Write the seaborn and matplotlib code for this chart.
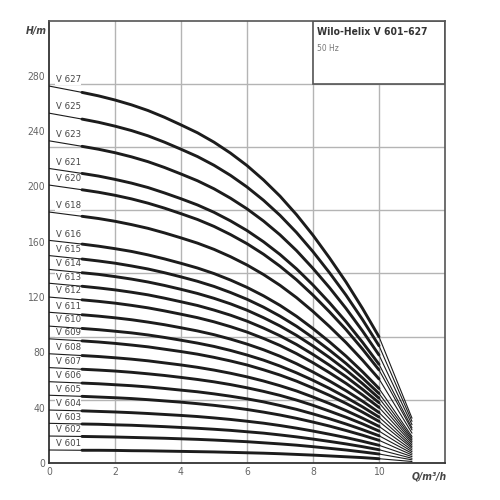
import matplotlib
matplotlib.use("Agg")
import matplotlib.pyplot as plt
from matplotlib.patches import Rectangle
import seaborn as sns
import pandas as pd

sns.set_style("white")
plt.rcParams['font.family'] = ['DejaVu Sans']
plt.rcParams['font.stretch'] = 'condensed'

# Flow rate points (m³/h)
flow = [0, 1, 1.5, 2, 2.5, 3, 3.5, 4, 4.5, 5, 5.5, 6, 6.5, 7, 7.5, 8, 8.5, 9, 9.5, 10, 11]

models = ["V 601", "V 602", "V 603", "V 604", "V 605", "V 606", "V 607", "V 608",
          "V 609", "V 610", "V 611", "V 612", "V 613", "V 614", "V 615", "V 616",
          "V 618", "V 620", "V 621", "V 623", "V 625", "V 627"]

# Head (m) per model at each flow point
v601 = [9.4, 9.2, 9.2, 9.1, 8.9, 8.8, 8.6, 8.4, 8.2, 8.0, 7.7, 7.4, 7.1, 6.7, 6.2, 5.7, 5.1, 4.5, 3.9, 3.1, 1.1]
v602 = [19.5, 19.2, 19.0, 18.8, 18.5, 18.2, 17.9, 17.5, 17.1, 16.6, 16.0, 15.4, 14.6, 13.8, 12.9, 11.8, 10.6, 9.4, 8.0, 6.5, 2.3]
v603 = [28.7, 28.2, 28.0, 27.6, 27.3, 26.8, 26.3, 25.7, 25.1, 24.4, 23.6, 22.6, 21.6, 20.3, 18.9, 17.3, 15.6, 13.8, 11.8, 9.6, 3.4]
v604 = [38.3, 37.7, 37.3, 36.9, 36.4, 35.8, 35.1, 34.4, 33.6, 32.6, 31.5, 30.2, 28.8, 27.1, 25.2, 23.1, 20.8, 18.4, 15.7, 12.8, 4.6]
v605 = [49.0, 48.2, 47.7, 47.2, 46.6, 45.8, 44.9, 44.0, 42.9, 41.7, 40.3, 38.7, 36.8, 34.7, 32.3, 29.6, 26.7, 23.5, 20.1, 16.4, 5.8]
v606 = [58.8, 57.8, 57.3, 56.6, 55.9, 55.0, 53.9, 52.7, 51.5, 50.0, 48.3, 46.4, 44.2, 41.6, 38.8, 35.5, 32.0, 28.2, 24.1, 19.7, 7.0]
v607 = [69.0, 67.8, 67.2, 66.5, 65.6, 64.5, 63.3, 61.9, 60.4, 58.7, 56.7, 54.4, 51.8, 48.9, 45.5, 41.7, 37.5, 33.1, 28.3, 23.1, 8.2]
v608 = [79.0, 77.7, 77.0, 76.1, 75.1, 73.9, 72.4, 70.9, 69.2, 67.2, 64.9, 62.3, 59.3, 55.9, 52.1, 47.7, 43.0, 37.9, 32.4, 26.5, 9.4]
v609 = [89.8, 88.3, 87.5, 86.5, 85.3, 84.0, 82.3, 80.6, 78.7, 76.4, 73.8, 70.9, 67.4, 63.6, 59.2, 54.2, 48.9, 43.1, 36.8, 30.1, 10.7]
v610 = [99.0, 97.3, 96.4, 95.3, 94.1, 92.6, 90.8, 88.8, 86.7, 84.3, 81.4, 78.1, 74.4, 70.1, 65.2, 59.8, 53.9, 47.5, 40.6, 33.2, 11.8]
v611 = [109.0, 107.2, 106.2, 105.0, 103.6, 101.9, 100.0, 97.8, 95.5, 92.8, 89.6, 86.0, 81.9, 77.2, 71.8, 65.8, 59.3, 52.3, 44.7, 36.5, 13.0]
v612 = [120.0, 118.0, 116.9, 115.6, 114.0, 112.2, 110.0, 107.6, 105.1, 102.1, 98.6, 94.7, 90.1, 85.0, 79.1, 72.5, 65.3, 57.6, 49.2, 40.2, 14.3]
v613 = [130.0, 127.8, 126.6, 125.2, 123.5, 121.6, 119.2, 116.6, 113.9, 110.6, 106.9, 102.6, 97.6, 92.0, 85.7, 78.5, 70.7, 62.4, 53.3, 43.6, 15.5]
v614 = [140.0, 137.6, 136.4, 134.8, 133.0, 130.9, 128.4, 125.6, 122.6, 119.1, 115.1, 110.5, 105.1, 99.1, 92.3, 84.6, 76.2, 67.2, 57.4, 46.9, 16.7]
v615 = [150.0, 147.5, 146.1, 144.5, 142.5, 140.3, 137.6, 134.6, 131.4, 127.7, 123.3, 118.4, 112.7, 106.2, 98.9, 90.6, 81.6, 72.0, 61.5, 50.3, 17.9]
v616 = [161.0, 158.3, 156.8, 155.0, 153.0, 150.5, 147.6, 144.4, 141.0, 137.0, 132.3, 127.0, 120.9, 114.0, 106.1, 97.2, 87.6, 77.3, 66.0, 53.9, 19.2]
v618 = [181.5, 178.4, 176.8, 174.8, 172.4, 169.7, 166.4, 162.8, 159.0, 154.5, 149.2, 143.2, 136.3, 128.5, 119.6, 109.6, 98.7, 87.1, 74.4, 60.8, 21.6]
v620 = [201.0, 197.6, 195.8, 193.6, 191.0, 187.9, 184.3, 180.3, 176.1, 171.1, 165.2, 158.6, 151.0, 142.3, 132.5, 121.4, 109.3, 96.5, 82.4, 67.3, 23.9]
v621 = [213.0, 209.4, 207.5, 205.1, 202.4, 199.2, 195.3, 191.1, 186.6, 181.3, 175.1, 168.1, 160.0, 150.8, 140.4, 128.7, 115.9, 102.2, 87.3, 71.4, 25.4]
v623 = [233.0, 229.0, 226.9, 224.4, 221.4, 217.9, 213.7, 209.0, 204.1, 198.3, 191.5, 183.8, 175.0, 165.0, 153.6, 140.7, 126.8, 111.8, 95.5, 78.1, 27.7]
v625 = [253.0, 248.7, 246.4, 243.6, 240.4, 236.6, 232.0, 226.9, 221.6, 215.3, 208.0, 199.6, 190.0, 179.1, 166.7, 152.8, 137.6, 121.4, 103.7, 84.8, 30.1]
v627 = [272.6, 268.0, 265.5, 262.5, 259.0, 254.9, 250.0, 244.5, 238.8, 232.0, 224.1, 215.1, 204.7, 193.0, 179.6, 164.7, 148.3, 130.9, 111.8, 91.3, 32.4]

heads = [v601, v602, v603, v604, v605, v606, v607, v608, v609, v610, v611, v612,
         v613, v614, v615, v616, v618, v620, v621, v623, v625, v627]

x_ticks = [0, 2, 4, 6, 8, 10]
y_ticks = [0, 40, 80, 120, 160, 200, 240, 280]
title = "Wilo-Helix V 601–627"
subtitle = "50 Hz"

rows = []
for m, hs in zip(models, heads):
    for q, h in zip(flow, hs):
        rows.append({"model": m, "Q": q, "H": h})
df = pd.DataFrame(rows)

fig = plt.figure(figsize=(5, 5), dpi=100)
ax = fig.add_axes([0.098, 0.074, 0.792, 0.885])
ax.set_xlim(0, 12)
ax.set_ylim(0, 320)

grid_c = "#b4b4b4"
box_c = "#555555"
band = 320 / 7
for i in range(1, 7):
    ax.axhline(i * band, color=grid_c, lw=1.0, zorder=1)
for xv in [2, 4, 6, 8]:
    ax.axvline(xv, color=grid_c, lw=1.0, zorder=1)
ax.plot([10, 10], [0, 6 * band], color=grid_c, lw=1.0, zorder=1)

# title box
ax.add_patch(Rectangle((8, 6 * band), 4, band, facecolor="white", edgecolor=box_c,
                       lw=1.2, zorder=1.5))
ax.text(8.12, 315, title, fontsize=7.4, fontweight="bold", color="#333333",
        va="top", ha="left", zorder=4)
ax.text(8.12, 303, subtitle, fontsize=6, color="#777777", va="top", ha="left", zorder=4)

line_c = "#1c1c1c"
sns.lineplot(data=df[df["Q"] <= 1], x="Q", y="H", units="model", estimator=None,
             color=line_c, lw=0.8, ax=ax, legend=False, zorder=3)
sns.lineplot(data=df[(df["Q"] >= 1) & (df["Q"] <= 10)], x="Q", y="H", units="model",
             estimator=None, color=line_c, lw=2.1, ax=ax, legend=False, zorder=3)
sns.lineplot(data=df[df["Q"] >= 10], x="Q", y="H", units="model", estimator=None,
             color=line_c, lw=0.8, ax=ax, legend=False, zorder=3)

for m, hs in zip(models, heads):
    ax.text(0.2, hs[0] + 1.2, m, fontsize=6.8, color="#444444", ha="left", va="bottom",
            zorder=2.5,
            bbox=dict(facecolor="white", edgecolor="none", pad=0.2))

ax.set_xticks(x_ticks)
ax.set_yticks(y_ticks)
ax.set_xticklabels([str(v) for v in x_ticks])
ax.set_yticklabels([str(v) for v in y_ticks])
ax.tick_params(axis="both", length=0, labelsize=7.5, labelcolor="#666666", pad=3)
ax.set_xlabel("")
ax.set_ylabel("")

for side in ["left", "bottom"]:
    ax.spines[side].set_color("#333333")
    ax.spines[side].set_linewidth(1.3)
for side in ["top", "right"]:
    ax.spines[side].set_color(box_c)
    ax.spines[side].set_linewidth(1.2)

ax.text(12.05, -6, "Q/m³/h", fontsize=7.5, fontstyle="italic", fontweight="bold",
        color="#444444", ha="right", va="top", clip_on=False)
ax.text(-0.08, 316, "H/m", fontsize=7.5, fontstyle="italic", fontweight="bold",
        color="#444444", ha="right", va="top", clip_on=False)

fig.savefig("out.png", dpi=100, facecolor="white")
